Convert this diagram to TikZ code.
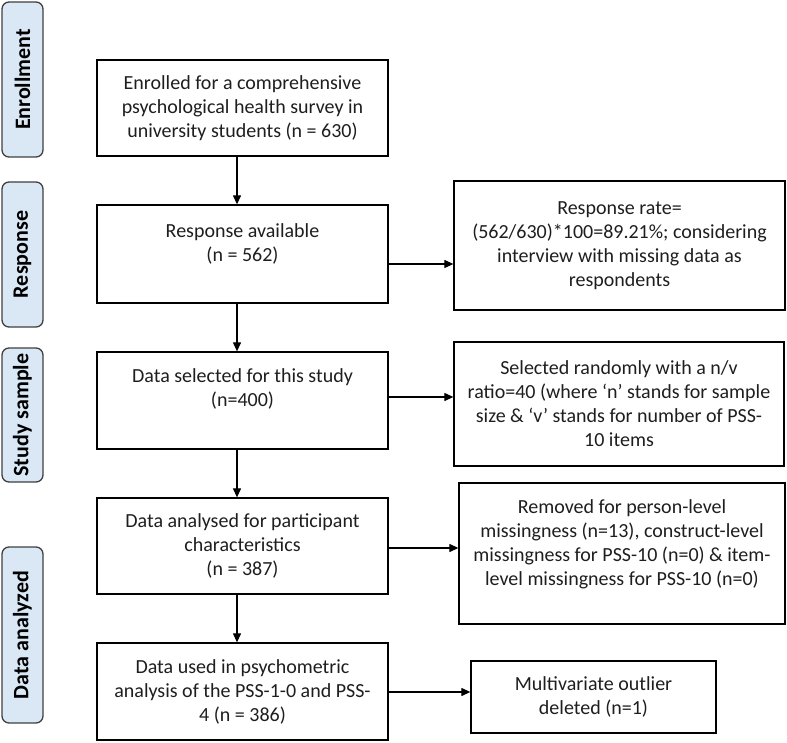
\documentclass[tikz,border=0pt]{standalone}
\usepackage{fontspec}
\setmainfont{Carlito}
\usetikzlibrary{arrows.meta}
\definecolor{lblfill}{HTML}{DAE8F6}
\definecolor{lbldraw}{HTML}{404040}
\definecolor{txt}{HTML}{1E1E1E}
\begin{document}
\begin{tikzpicture}[x=1pt,y=-1pt,
  box/.style={draw=black, line width=1.3pt, align=center, inner sep=0pt, text=txt,
    font=\fontsize{20}{24}\selectfont},
  lbl/.style={draw=lbldraw, fill=lblfill, line width=1.3pt, rounded corners=7pt,
    inner sep=0pt, text=black, rotate=90, font=\bfseries\fontsize{22}{26}\selectfont},
  arr/.style={line width=1.2pt, -{Triangle[length=9pt,width=8pt]}}]
\useasboundingbox (0,0) rectangle (787,743);

% phase labels
\node[lbl, minimum width=155pt, minimum height=41pt] (l1) at (22.5,79.5) {Enrollment};
\node[lbl, minimum width=145pt, minimum height=41pt] (l2) at (22.5,254.5) {Response};
\node[lbl, minimum width=134pt, minimum height=41pt] (l3) at (22.5,415) {Study sample};
\node[lbl, minimum width=176pt, minimum height=41pt] (l4) at (22.5,635) {Data analyzed};

% main column
\node[box, minimum width=291pt, minimum height=96pt] (b1) at (242.5,108)
  {Enrolled for a comprehensive\\psychological health survey in\\university students (n = 630)};
\node[box, minimum width=291pt, minimum height=98pt, text depth=23pt] (b2) at (242.5,254)
  {Response available\\(n = 562)};
\node[box, minimum width=291pt, minimum height=97pt, text depth=25pt] (b3) at (242.5,400.5)
  {Data selected for this study\\(n=400)};
\node[box, minimum width=291pt, minimum height=96pt] (b4) at (242.5,546)
  {Data analysed for participant\\characteristics\\(n = 387)};
\node[box, minimum width=291pt, minimum height=97pt] (b5) at (242.5,691.5)
  {Data used in psychometric\\analysis of the PSS-1-0 and PSS-\\4 (n = 386)};

% side column
\node[box, minimum width=331pt, minimum height=129pt] (r1) at (619.5,245.5)
  {Response rate=\\(562/630)*100=89.21\%; considering\\interview with missing data as\\respondents};
\node[box, minimum width=330pt, minimum height=124pt] (r2) at (619,404)
  {Selected randomly with a n/v\\ratio=40 (where ‘n’ stands for sample\\size \& ‘v’ stands for number of PSS-\\10 items};
\node[box, minimum width=326pt, minimum height=141pt, text depth=22pt] (r3) at (622,553.5)
  {Removed for person-level\\missingness (n=13), construct-level\\missingness for PSS-10 (n=0) \& item-\\level missingness for PSS-10 (n=0)};
\node[box, minimum width=245pt, minimum height=72pt] (r4) at (593.5,697)
  {Multivariate outlier\\deleted (n=1)};

% connectors
\coordinate (ax) at (237,0);
\draw[arr] (b1.south -| ax) -- (b2.north -| ax);
\draw[arr] (b2.south -| ax) -- (b3.north -| ax);
\draw[arr] (b3.south -| ax) -- (b4.north -| ax);
\draw[arr] (b4.south -| ax) -- (b5.north -| ax);

\coordinate (h1) at (0,264);
\coordinate (h2) at (0,397);
\coordinate (h3) at (0,548);
\coordinate (h4) at (0,692);
\draw[arr] (b2.east |- h1) -- (r1.west |- h1);
\draw[arr] (b3.east |- h2) -- (r2.west |- h2);
\draw[arr] (b4.east |- h3) -- (r3.west |- h3);
\draw[arr] (b5.east |- h4) -- (r4.west |- h4);
\end{tikzpicture}
\end{document}
